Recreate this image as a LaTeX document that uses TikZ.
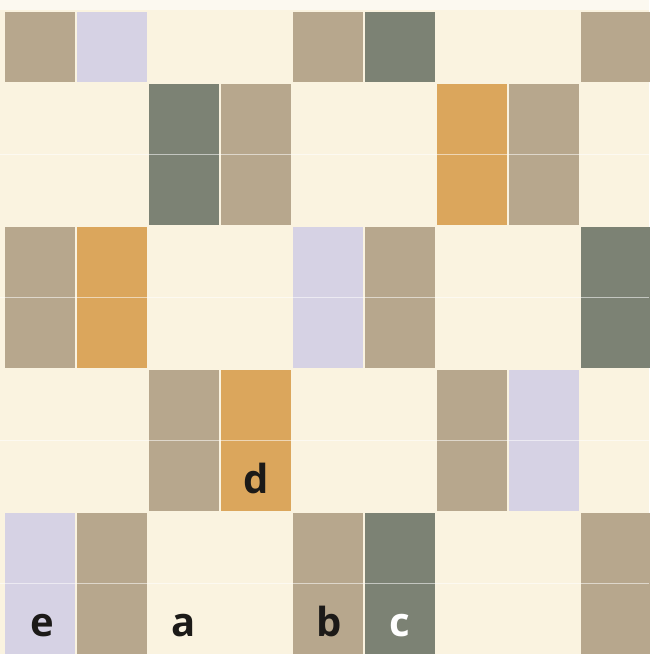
\documentclass[tikz,border=0pt]{standalone}
\usepackage{fontspec}
\setsansfont{Open Sans}
\usepackage{xcolor}
\usepackage{tikz}
\usetikzlibrary{positioning}
\definecolor{paper}{HTML}{FAF3E0}
\definecolor{papertop}{HTML}{FCF9F0}
\definecolor{taupe}{HTML}{B7A78D}
\definecolor{lilac}{HTML}{D6D2E4}
\definecolor{slate}{HTML}{7C8274}
\definecolor{ochre}{HTML}{DBA65C}
\definecolor{ink}{HTML}{1C1A18}
\tikzstyle{cell} = [rectangle, minimum width=70pt, minimum height=141pt, inner sep=0pt, outer sep=0pt]
\tikzstyle{short} = [minimum height=70pt]
\tikzstyle{taupecell} = [cell, fill=taupe]
\tikzstyle{lilaccell} = [cell, fill=lilac]
\tikzstyle{slatecell} = [cell, fill=slate]
\tikzstyle{ochrecell} = [cell, fill=ochre]
\tikzstyle{seam} = [white, line width=1.2pt, opacity=0.55]
\tikzstyle{letter} = [font=\sffamily\bfseries\fontsize{40}{40}\selectfont, text=ink, anchor=base, inner sep=0pt]
\begin{document}
\begin{tikzpicture}[x=1pt, y=-1pt]

\useasboundingbox (0,0) rectangle (649,654);
\fill[paper] (0,0) rectangle (649,654);
\fill[papertop] (0,0) rectangle (649,10);

% top row
\node (r1c1) [taupecell, short] at (40,47) {};
\node (r1c2) [lilaccell, short] at (112,47) {};
\node (r1c5) [taupecell, short] at (328,47) {};
\node (r1c6) [slatecell, short] at (400,47) {};
\node (r1c9) [taupecell, short] at (616,47) {};

% second band
\node (r2c3) [slatecell] at (184,154.5) {};
\node (r2c4) [taupecell] at (256,154.5) {};
\node (r2c7) [ochrecell] at (472,154.5) {};
\node (r2c8) [taupecell] at (544,154.5) {};

% third band
\node (r3c1) [taupecell] at (40,297.5) {};
\node (r3c2) [ochrecell] at (112,297.5) {};
\node (r3c5) [lilaccell] at (328,297.5) {};
\node (r3c6) [taupecell] at (400,297.5) {};
\node (r3c9) [slatecell] at (616,297.5) {};

% fourth band
\node (r4c3) [taupecell] at (184,440.5) {};
\node (r4c4) [ochrecell] at (256,440.5) {};
\node (r4c7) [taupecell] at (472,440.5) {};
\node (r4c8) [lilaccell] at (544,440.5) {};

% bottom band
\node (r5c1) [lilaccell] at (40,583.5) {};
\node (r5c2) [taupecell] at (112,583.5) {};
\node (r5c5) [taupecell] at (328,583.5) {};
\node (r5c6) [slatecell] at (400,583.5) {};
\node (r5c9) [taupecell] at (616,583.5) {};

% faint seams halfway down each band
\draw [seam] (0,154.5) -- (649,154.5);
\draw [seam] (0,297.5) -- (649,297.5);
\draw [seam] (0,440.5) -- (649,440.5);
\draw [seam] (0,583.5) -- (649,583.5);

% letters
\node (labd) [letter] at (256,493) {d};
\node (labe) [letter] at (42,636) {e};
\node (laba) [letter] at (184,636) {a};
\node (labb) [letter] at (329,636) {b};
\node (labc) [letter, text=white] at (400,636) {c};

\end{tikzpicture}
\end{document}
